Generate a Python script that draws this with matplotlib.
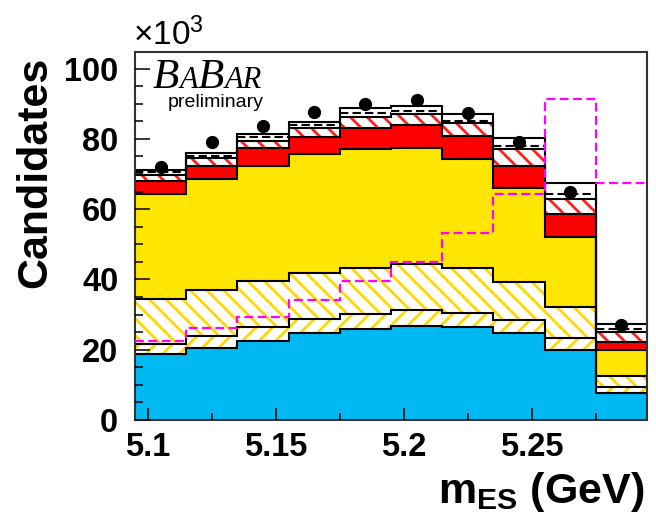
import numpy as np
import matplotlib.pyplot as plt
from matplotlib.ticker import MultipleLocator, FormatStrFormatter

plt.rcParams['font.family'] = 'Liberation Sans'
plt.rcParams['mathtext.fontset'] = 'custom'
plt.rcParams['mathtext.rm'] = 'Liberation Sans'
plt.rcParams['mathtext.bf'] = 'Liberation Sans:bold'
plt.rcParams['hatch.linewidth'] = 2.0

W, H = 656, 523

# mES bins (GeV)
edges = np.round(np.linspace(5.095, 5.295, 11), 4)

# stacked components, thousands of candidates per bin (bottom to top)
comp_blue = [18.9, 20.4, 22.5, 24.8, 25.8, 26.7, 26.4, 24.7, 19.9, 7.6]
comp_hatch_lo = [2.6, 3.6, 4.0, 3.9, 4.4, 4.5, 4.1, 3.7, 3.5, 1.7]
comp_hatch_hi = [13.0, 13.0, 13.0, 13.0, 13.1, 13.2, 12.7, 11.0, 8.8, 3.2]
comp_yellow = [29.9, 31.6, 32.9, 33.9, 33.8, 32.9, 31.0, 26.5, 19.9, 7.4]
comp_red = [3.6, 3.7, 5.1, 4.8, 6.1, 6.6, 6.6, 6.5, 6.6, 2.4]
comp_red_hatch = [1.7, 2.1, 2.0, 2.6, 3.1, 3.1, 3.6, 4.7, 4.3, 2.6]
comp_white_lo = [0.8, 0.8, 0.9, 0.9, 1.0, 0.9, 0.7, 0.9, 1.3, 1.0]
comp_white_hi = [0.6, 0.9, 0.9, 1.0, 1.4, 1.4, 2.0, 2.1, 3.2, 1.5]

# overlaid dashed histogram and data
signal = [22.5, 26.3, 29.2, 34.1, 39.5, 44.9, 53.2, 64.2, 91.2, 67.5]
data = [72.1, 79.1, 83.7, 87.5, 89.8, 91.0, 87.3, 79.2, 65.0, 27.0]

# (values, face, hatch colour, hatch)
stack = [
    (comp_blue, '#00B9F2', None, None),
    (comp_hatch_lo, 'white', '#FFD800', '//'),
    (comp_hatch_hi, 'white', '#FFD800', '\\\\'),
    (comp_yellow, '#FFE600', None, None),
    (comp_red, '#FF0000', None, None),
    (comp_red_hatch, 'white', '#FF2020', '\\\\'),
    (comp_white_lo, 'white', None, None),
    (comp_white_hi, 'white', None, None),
]

fig = plt.figure(figsize=(W / 100, H / 100), dpi=100)
ax = fig.add_axes([135 / W, 1 - 420 / H, 512 / W, 368 / H])

levels = [np.zeros(len(comp_blue))]
for vals, face, hcol, hatch in stack:
    lower = levels[-1]
    upper = lower + np.array(vals)
    if hatch is None:
        ax.stairs(upper, edges, baseline=lower, fill=True, color=face, lw=0)
    else:
        ax.stairs(upper, edges, baseline=lower, fill=True, facecolor=face,
                  edgecolor=hcol, hatch=hatch, lw=0)
    levels.append(upper)

# black outlines, the one below the top is dashed
for i, lev in enumerate(levels[1:], start=1):
    if i == 7:
        ax.hlines(lev, edges[:-1], edges[1:], colors='black', lw=1.5,
                  linestyles=(0, (4, 2)), zorder=2)
    else:
        ax.stairs(lev, edges, baseline=None, color='black', lw=1.5, zorder=2)

ax.stairs(signal, edges, baseline=None, color='#FF00FF', lw=1.6,
          ls=(0, (4, 2)), zorder=3)

centers = 0.5 * (edges[:-1] + edges[1:])
ax.plot(centers, data, 'o', color='black', ms=8.5, zorder=5)

ax.set_xlim(5.095, 5.295)
ax.set_ylim(0, 104.7)
ax.set_axisbelow(False)

ax.xaxis.set_major_locator(MultipleLocator(0.05))
ax.xaxis.set_minor_locator(MultipleLocator(0.025))
ax.xaxis.set_major_formatter(FormatStrFormatter('%g'))
ax.yaxis.set_major_locator(MultipleLocator(20))
ax.yaxis.set_minor_locator(MultipleLocator(5))

ax.tick_params(axis='both', which='both', direction='in', top=False, right=False,
               width=1.1, color='black')
ax.tick_params(axis='y', which='major', length=10.8, pad=12)
ax.tick_params(axis='y', which='minor', length=5.8)
ax.tick_params(axis='x', which='major', length=8.6, pad=9)
ax.tick_params(axis='x', which='minor', length=4.7)
for lab in ax.get_xticklabels() + ax.get_yticklabels():
    lab.set_fontsize(23.5)
    lab.set_fontweight('bold')

for sp in ax.spines.values():
    sp.set_color('#333333')
    sp.set_linewidth(1.5)

ax.set_ylabel('Candidates', fontsize=31, fontweight='bold', loc='top')
ax.yaxis.set_label_coords(-0.155, 0.986)
ax.set_xlabel(r'$\mathbf{m_{ES}}$ (GeV)', fontsize=31, fontweight='bold', loc='right')
ax.xaxis.set_label_coords(0.996, -0.136)

ax.text(-0.004, 1.019, r'$\mathregular{\times10^{3}}$', transform=ax.transAxes,
        fontsize=24, ha='left', va='baseline')

# experiment logo
logo = [('B', 153, 31), ('A', 180, 22), ('B', 198, 31), ('AR', 225, 22)]
for s, xp, size in logo:
    fig.text(xp / W, 1 - 88 / H, s, fontsize=size, family='Liberation Serif',
             style='italic', ha='left', va='baseline')
fig.text(168 / W, 1 - 107 / H, 'preliminary', fontsize=14, ha='left', va='baseline')

fig.savefig('out.png', dpi=100)
